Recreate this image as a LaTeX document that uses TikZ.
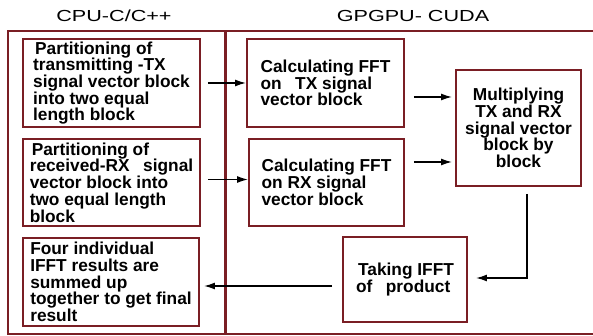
\documentclass[tikz,border=0pt]{standalone}
\usepackage{fontspec}
\setmainfont{Liberation Sans}
\usetikzlibrary{arrows.meta}
\definecolor{dred}{HTML}{7A1E24}
\newcommand\blockfont{\bfseries\fontsize{17.3}{16.7}\selectfont\lineskiplimit=-20pt\relax}
\tikzset{
  outerbox/.style={draw=dred, line width=1.6pt},
  blockbox/.style={draw=dred, line width=1.9pt, inner sep=0pt, font=\blockfont},
  lbox/.style={blockbox, align=left},
  cbox/.style={blockbox, align=center},
  heading/.style={font=\fontsize{16}{16}\selectfont, inner sep=0pt},
  arr/.style={line width=1.5pt, -{Latex[length=11pt,width=7pt]}},
}
\begin{document}
\begin{tikzpicture}[x=1pt,y=-1pt]
\useasboundingbox (0,0) rectangle (593,336);
\clip (0,0) rectangle (593,336);
\fill[white] (0,0) rectangle (593,336);
% headings
\node[heading] (hcpu) at (114,16) {\scalebox{1.35}[1]{CPU-C/C++}};
\node[heading] (hgpu) at (413,16) {\scalebox{1.35}[1]{GPGPU- CUDA}};
% outer regions
\draw[outerbox] (8,31) rectangle (225,334);
\draw[outerbox] (226,31) rectangle (610,334);
% CPU blocks
\node[lbox, minimum width=177pt, minimum height=88pt] (p1) at (111.5,83)
  {\hspace{2pt}Partitioning of\\transmitting -TX\\signal vector block\\into two equal\\length block};
\node[lbox, minimum width=177pt, minimum height=87pt] (p2) at (111.5,182.5)
  {\hspace{2pt}Partitioning of\\received-RX\hspace{0.5em} signal\\vector block into\\two equal length\\block};
\node[lbox, minimum width=176pt, minimum height=88pt] (p3) at (111,282)
  {Four individual\\IFFT results are\\summed up\\together to get final\\result};
% GPU blocks
\node[lbox, minimum width=157pt, minimum height=88pt] (f1) at (325.5,83)
  {Calculating FFT\\on\hspace{0.5em} TX signal\\vector block};
\node[lbox, minimum width=155pt, minimum height=87pt] (f2) at (326.5,182.5)
  {Calculating FFT\\on RX signal\\vector block};
\node[cbox, minimum width=125pt, minimum height=116pt] (mul) at (518.5,128)
  {Multiplying\\TX and RX\\signal vector\\block by\\block};
\node[lbox, minimum width=124pt, minimum height=85pt] (ifft) at (405,279.5)
  {\hspace{2pt}Taking IFFT\\of\hspace{0.5em} product};
% connectors
\draw[arr, shorten <=7pt] (p1.east) -- (f1.west);
\path ([yshift=3pt]p2.east) coordinate (s2);
\draw[arr, shorten <=7pt] (s2) -- (s2 -| f2.west);
\path ([xshift=9pt,yshift=-14pt]f1.east) coordinate (s3);
\draw[arr, shorten >=3pt] (s3) -- (s3 -| mul.west);
\path ([xshift=9pt,yshift=20.5pt]f2.east) coordinate (s4);
\draw[arr, shorten >=3pt] (s4) -- (s4 -| mul.west);
\path ([xshift=8.5pt,yshift=-7pt]mul.south) coordinate (s5);
\path ([xshift=8pt,yshift=1.5pt]ifft.east) coordinate (e5);
\draw[arr] (s5) |- (e5);
\path ([xshift=-10pt,yshift=-6.5pt]ifft.west) coordinate (s6);
\draw[arr, shorten >=4pt] (s6) -- (s6 -| p3.east);
\end{tikzpicture}
\end{document}
